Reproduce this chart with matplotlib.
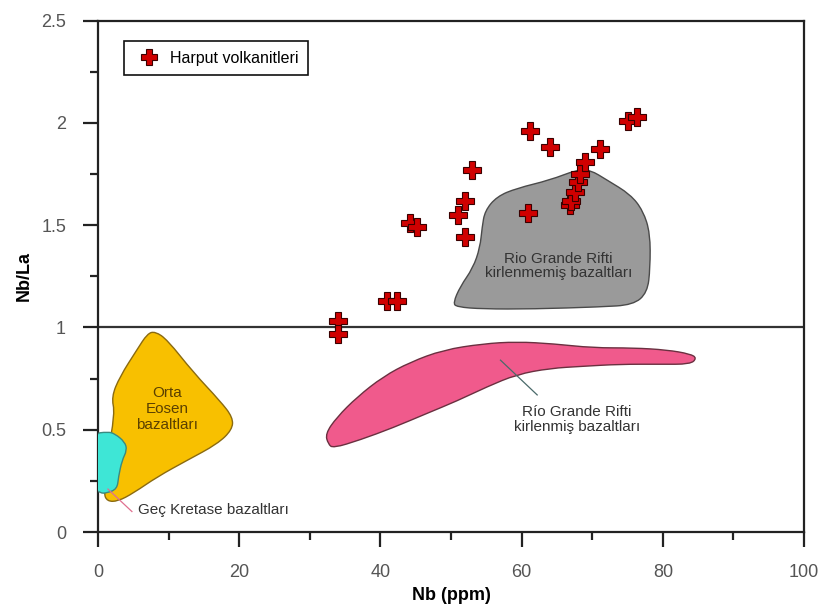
import numpy as np
import matplotlib
matplotlib.use("Agg")
import matplotlib.pyplot as plt
from matplotlib.path import Path
from matplotlib.patches import PathPatch
from matplotlib.ticker import MultipleLocator, FormatStrFormatter

plt.rcParams['font.family'] = ['Liberation Sans', 'DejaVu Sans']

# Harput volkanitleri samples (Nb ppm, Nb/La)
nb = [34.0, 34.0, 40.9, 42.3, 44.2, 45.2, 51.0, 52.0, 52.0, 53.0,
      60.9, 61.2, 64.0, 66.8, 67.0, 67.5, 68.0, 68.3, 69.0, 71.1,
      75.1, 76.3]
nb_la = [1.03, 0.97, 1.13, 1.13, 1.51, 1.49, 1.55, 1.62, 1.44, 1.77,
         1.56, 1.96, 1.88, 1.60, 1.62, 1.66, 1.71, 1.75, 1.81, 1.87,
         2.01, 2.03]

# field outlines
gray_x = [50.3, 51.3, 53.1, 54.1, 54.4, 54.8, 56.5, 59.3, 64.0, 67.8, 69.7,
          72.1, 75.4, 77.2, 78.2, 78.2, 77.8, 75.8, 71.1, 61.6, 54.5, 50.8]
gray_y = [1.12, 1.20, 1.29, 1.39, 1.49, 1.57, 1.64, 1.68, 1.72, 1.77, 1.77,
          1.72, 1.65, 1.57, 1.46, 1.29, 1.17, 1.11, 1.10, 1.09, 1.09, 1.10]

pink_x = [32.6, 32.2, 33.8, 36.7, 40.4, 44.2, 48.9, 54.5, 59.3, 64.5, 70.1,
          75.8, 80.6, 83.9, 84.8, 83.9, 79.6, 73.9, 68.7, 64.0, 59.3, 55.1,
          50.8, 46.6, 41.8, 37.1, 33.3]
pink_y = [0.43, 0.48, 0.56, 0.66, 0.76, 0.83, 0.89, 0.92, 0.93, 0.92, 0.90,
          0.90, 0.89, 0.87, 0.85, 0.82, 0.82, 0.82, 0.81, 0.80, 0.77, 0.71,
          0.64, 0.58, 0.51, 0.45, 0.41]

orange_x = [8.1, 9.8, 13.5, 17.3, 19.1, 19.0, 16.9, 12.6, 8.4, 5.0, 2.8,
            1.3, 0.8, 1.2, 2.4, 1.9, 3.1, 5.5, 7.0]
orange_y = [0.98, 0.94, 0.78, 0.64, 0.56, 0.50, 0.43, 0.35, 0.27, 0.19, 0.15,
            0.15, 0.19, 0.35, 0.58, 0.66, 0.76, 0.89, 0.97]

cyan_x = [-0.8, 1.4, 2.4, 3.8, 4.1, 3.4, 2.9, 2.7, 1.2, 0.3, -0.8]
cyan_y = [0.48, 0.49, 0.48, 0.44, 0.40, 0.35, 0.27, 0.21, 0.19, 0.19, 0.22]


def smooth_field(ax, xs, ys, **kw):
    # closed quadratic bezier: outline points as control points
    pts = np.column_stack([xs, ys])
    mids = (pts + np.roll(pts, -1, axis=0)) / 2
    verts = [mids[-1]]
    codes = [Path.MOVETO]
    for p, m in zip(pts, mids):
        verts += [p, m]
        codes += [Path.CURVE3, Path.CURVE3]
    verts.append(mids[-1])
    codes.append(Path.CLOSEPOLY)
    ax.add_patch(PathPatch(Path(verts, codes), **kw))


fig = plt.figure(figsize=(8.21, 6.12), dpi=100)
ax = fig.add_axes([0.1194, 0.1307, 0.8600, 0.8358])

smooth_field(ax, gray_x, gray_y, facecolor='#9a9a9a', edgecolor='#4a4a4a', lw=1.0, zorder=2)
smooth_field(ax, pink_x, pink_y, facecolor='#f05a8c', edgecolor='#6a3040', lw=1.0, zorder=2)
smooth_field(ax, orange_x, orange_y, facecolor='#f8c000', edgecolor='#8a6a10', lw=1.0, zorder=2)
smooth_field(ax, cyan_x, cyan_y, facecolor='#3ee6d6', edgecolor='#3a8a80', lw=1.0, zorder=3)

# Nb/La = 1 line
ax.axhline(1, color='#333333', lw=1.6, zorder=1)

# leader lines
ax.plot([57.0, 62.2], [0.84, 0.67], color='#4a6a6a', lw=0.9, zorder=4)
ax.plot([1.4, 4.8], [0.21, 0.10], color='#e07090', lw=0.9, zorder=4)

# labels
ax.text(65.2, 1.30, "Rio Grande Rifti\nkirlenmemiş bazaltları", ha='center', va='center',
        fontsize=11, color='#333333', linespacing=1.05, zorder=5)
ax.text(67.8, 0.55, "Río Grande Rifti\nkirlenmiş bazaltları", ha='center', va='center',
        fontsize=11, color='#333333', linespacing=1.05, zorder=5)
ax.text(9.8, 0.60, "Orta\nEosen\nbazaltları", ha='center', va='center',
        fontsize=11, color='#5a4000', linespacing=1.2, zorder=5)
ax.text(5.7, 0.107, "Geç Kretase bazaltları", ha='left', va='center',
        fontsize=11, color='#333333', zorder=5)

ax.plot(nb, nb_la, linestyle='none', marker='P', ms=13, mfc='#d00000',
        mec='#3a0000', mew=0.8, zorder=6, label='Harput volkanitleri')

ax.set_xlim(0, 100)
ax.set_ylim(0, 2.5)
ax.xaxis.set_major_locator(MultipleLocator(20))
ax.xaxis.set_minor_locator(MultipleLocator(10))
ax.yaxis.set_major_locator(MultipleLocator(0.5))
ax.yaxis.set_minor_locator(MultipleLocator(0.25))
ax.yaxis.set_major_formatter(FormatStrFormatter('%g'))
ax.tick_params(which='major', direction='out', length=11, width=1.6, colors='#222222',
               labelcolor='#555555', labelsize=13)
ax.tick_params(axis='x', which='major', pad=12)
ax.tick_params(axis='y', which='major', pad=12)
ax.tick_params(which='minor', direction='out', length=6, width=1.6, colors='#222222')
for s in ax.spines.values():
    s.set_linewidth(1.6)
    s.set_color('#222222')

ax.set_xlabel("Nb (ppm)", fontsize=13, fontweight='bold', labelpad=4)
ax.set_ylabel("Nb/La", fontsize=13, fontweight='bold', labelpad=6)

leg = ax.legend(loc='upper left', bbox_to_anchor=(0.025, 0.975), fancybox=False,
                edgecolor='#111111', framealpha=1, fontsize=11.5, handletextpad=0.3,
                borderpad=0.6, markerscale=0.9)
leg.get_frame().set_linewidth(1.2)

fig.savefig("out.png", dpi=100)
